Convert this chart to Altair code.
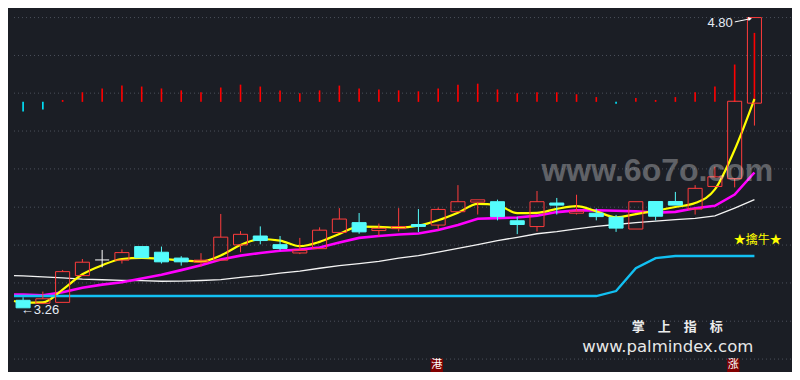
import altair as alt
import pandas as pd

BG = "#1b1e25"
RED = "#ff3c3c"
CYAN = "#54fcfc"

# ---------------- data ----------------
candle_idx = list(range(38))
opens = [3.300, 3.284, 3.289, 3.431, 3.514, 3.513, 3.585, 3.555, 3.524, 3.502,
         3.513, 3.594, 3.641, 3.595, 3.551, 3.574, 3.660, 3.712, 3.670, 3.680,
         3.702, 3.699, 3.770, 3.821, 3.823, 3.722, 3.691, 3.816, 3.762, 3.762,
         3.741, 3.678, 3.824, 3.824, 3.784, 3.904, 3.945, 4.346]
highs = [3.316, 3.346, 3.461, 3.519, 3.567, 3.570, 3.585, 3.585, 3.534, 3.550,
         3.758, 3.667, 3.692, 3.641, 3.631, 3.687, 3.789, 3.763, 3.707, 3.789,
         3.784, 3.792, 3.911, 3.833, 3.834, 3.743, 3.880, 3.843, 3.860, 3.787,
         3.753, 3.823, 3.824, 3.875, 3.911, 4.009, 4.356, 4.800]
lows = [3.260, 3.280, 3.289, 3.431, 3.475, 3.495, 3.524, 3.495, 3.484, 3.479,
        3.513, 3.555, 3.597, 3.565, 3.545, 3.574, 3.660, 3.653, 3.640, 3.665,
        3.662, 3.675, 3.770, 3.755, 3.724, 3.651, 3.665, 3.755, 3.755, 3.724,
        3.663, 3.678, 3.724, 3.805, 3.755, 3.904, 3.899, 4.227]
closes = [3.260, 3.308, 3.452, 3.502, 3.514, 3.553, 3.526, 3.504, 3.504, 3.513,
          3.635, 3.650, 3.617, 3.575, 3.565, 3.672, 3.731, 3.663, 3.682, 3.691,
          3.692, 3.782, 3.823, 3.833, 3.744, 3.702, 3.823, 3.805, 3.773, 3.744,
          3.683, 3.823, 3.746, 3.805, 3.894, 3.955, 4.356, 4.800]

# line points: first point sits on the left edge of the panel
line_x = [-0.46] + candle_idx
ma_short = [3.296, 3.288, 3.289, 3.357, 3.438, 3.486, 3.519, 3.525, 3.520, 3.511,
            3.506, 3.538, 3.593, 3.625, 3.617, 3.587, 3.610, 3.652, 3.691, 3.690,
            3.685, 3.696, 3.725, 3.765, 3.812, 3.805, 3.762, 3.764, 3.785, 3.800,
            3.772, 3.740, 3.757, 3.775, 3.795, 3.816, 3.888, 4.099, 4.368]
ma_mid = [3.331, 3.330, 3.327, 3.343, 3.367, 3.383, 3.396, 3.416, 3.436, 3.460,
          3.486, 3.516, 3.537, 3.551, 3.563, 3.569, 3.580, 3.606, 3.631, 3.641,
          3.649, 3.654, 3.673, 3.699, 3.733, 3.736, 3.739, 3.749, 3.768, 3.777,
          3.778, 3.775, 3.772, 3.765, 3.769, 3.788, 3.801, 3.861, 3.978]
ma_long = [3.431, 3.429, 3.424, 3.419, 3.412, 3.409, 3.406, 3.404, 3.401, 3.402,
           3.405, 3.410, 3.422, 3.431, 3.444, 3.455, 3.470, 3.484, 3.495, 3.507,
           3.524, 3.537, 3.555, 3.575, 3.595, 3.617, 3.634, 3.653, 3.664, 3.679,
           3.692, 3.702, 3.712, 3.720, 3.728, 3.735, 3.748, 3.789, 3.834]
support = [3.3225] * 31 + [3.349, 3.470, 3.524, 3.535, 3.535, 3.535, 3.535, 3.535]

signal = [-10, -8, 2, 10, 14, 17, 16, 14, 12, 10, 15, 18, 16, 12, 9, 12, 17, 14, 13,
          12, 11, 14, 18, 19, 13, 9, 10, 10, 8, 5, -2, 4, 2, 5, 10, 16, 39, 72]

grid_levels = [4.800, 4.599, 4.399, 4.198, 3.997, 3.794, 3.593, 3.392, 3.189, 2.988]

low_label = "←3.26"
high_label = "4.80"
signal_label = "★擒牛★"
watermark1 = "www.6o7o.com"
watermark2_cn = "掌　上　指　标"
watermark2_en = "www.palmindex.com"
tags = ["港", "涨"]
tag_idx = [20.93, 35.93]

# ---------------- scales ----------------
X_DOMAIN = [-0.46, 38.85]
Y_DOMAIN = [2.9195, 4.8508]
xs = alt.Scale(domain=X_DOMAIN, nice=False, zero=False)
ys = alt.Scale(domain=Y_DOMAIN, nice=False, zero=False)
ind_scale = alt.Scale(domain=[-282, 98], nice=False, zero=False)


def X(f):
    return alt.X(f, type="quantitative", scale=xs, axis=None)


def Y(f):
    return alt.Y(f, type="quantitative", scale=ys, axis=None)


# ---------------- tables ----------------
cdf = pd.DataFrame({"i": candle_idx, "o": opens, "h": highs, "l": lows, "c": closes})
cdf["kind"] = ["up" if c > o else ("down" if c < o else "flat") for o, c in zip(cdf.o, cdf.c)]
cdf["top"] = cdf[["o", "c"]].max(axis=1)
cdf["bot"] = cdf[["o", "c"]].min(axis=1)
cdf["x0"] = cdf.i - 0.355
cdf["x1"] = cdf.i + 0.355
kind_col = {"up": RED, "down": CYAN, "flat": "#ffffff"}

wk = pd.concat([
    pd.DataFrame({"i": cdf.i, "a": cdf.h, "b": cdf.top, "kind": cdf.kind}),
    pd.DataFrame({"i": cdf.i, "a": cdf.bot, "b": cdf.l, "kind": cdf.kind}),
], ignore_index=True)
wk["col"] = wk.kind.map(kind_col)

ind = pd.DataFrame({"i": candle_idx, "v": signal})
ind["z"] = 0
ind["col"] = ["#ff0000" if v > 0 else "#00e8ff" for v in signal]

ldf = pd.DataFrame({"x": line_x, "s": ma_short, "m": ma_mid, "w": ma_long, "b": support})

layers = []

# grid
layers.append(
    alt.Chart(pd.DataFrame({"g": grid_levels}))
    .mark_rule(color="#4b505b", strokeDash=[1, 3], strokeWidth=1)
    .encode(y=Y("g"))
)

# indicator bars
layers.append(
    alt.Chart(ind)
    .mark_rule(strokeWidth=1.6)
    .encode(
        x=X("i"),
        y=alt.Y("z:Q", scale=ind_scale, axis=None),
        y2="v:Q",
        color=alt.Color("col:N", scale=None),
    )
)

# moving-average lines
layers.append(alt.Chart(ldf).mark_line(color="#f4f4f4", strokeWidth=1.3).encode(x=X("x"), y=Y("w")))
layers.append(alt.Chart(ldf).mark_line(color="#ff00ff", strokeWidth=2.6).encode(x=X("x"), y=Y("m")))
layers.append(alt.Chart(ldf).mark_line(color="#ffff00", strokeWidth=2.2, interpolate="monotone").encode(x=X("x"), y=Y("s")))
layers.append(alt.Chart(ldf).mark_line(color="#12c0f2", strokeWidth=2.4).encode(x=X("x"), y=Y("b")))

# wicks
layers.append(
    alt.Chart(wk)
    .mark_rule(strokeWidth=1)
    .encode(x=X("i"), y=Y("a"), y2="b:Q", color=alt.Color("col:N", scale=None))
)

# bodies
layers.append(
    alt.Chart(cdf[cdf.kind == "up"])
    .mark_rect(fillOpacity=0, stroke=RED, strokeWidth=1)
    .encode(x=X("x0"), x2="x1:Q", y=Y("bot"), y2="top:Q")
)
layers.append(
    alt.Chart(cdf[cdf.kind == "down"])
    .mark_rect(fill=CYAN, stroke=CYAN, strokeWidth=1)
    .encode(x=X("x0"), x2="x1:Q", y=Y("bot"), y2="top:Q")
)
layers.append(
    alt.Chart(cdf[cdf.kind == "flat"])
    .mark_rule(color="#ffffff", strokeWidth=1)
    .encode(x=X("x0"), x2="x1:Q", y=Y("o"))
)

# price labels
layers.append(
    alt.Chart(pd.DataFrame({"x": [-0.113], "y": [3.250], "t": [low_label]}))
    .mark_text(align="left", baseline="middle", font="Liberation Sans", fontSize=13, color="#e6ecf5")
    .encode(x=X("x"), y=Y("y"), text="t:N")
)
layers.append(
    alt.Chart(pd.DataFrame({"x": [35.906], "y": [4.772], "t": [high_label]}))
    .mark_text(align="right", baseline="middle", font="Liberation Sans", fontSize=13, color="#e6ecf5")
    .encode(x=X("x"), y=Y("y"), text="t:N")
)
layers.append(
    alt.Chart(pd.DataFrame({"x": [36.005], "x2": [36.76], "y": [4.777], "y2": [4.793]}))
    .mark_rule(color="#ffffff", strokeWidth=1)
    .encode(x=X("x"), x2="x2:Q", y=Y("y"), y2="y2:Q")
)
layers.append(
    alt.Chart(pd.DataFrame({"x": [36.78], "y": [4.794]}))
    .mark_point(shape="triangle-right", size=18, filled=True, color="#ffffff", opacity=1, angle=350)
    .encode(x=X("x"), y=Y("y"))
)

# signal text
layers.append(
    alt.Chart(pd.DataFrame({"x": [35.955], "y": [3.621], "t": [signal_label]}))
    .mark_text(align="left", baseline="middle", font="Noto Sans CJK SC", fontSize=12, color="#ffff00")
    .encode(x=X("x"), y=Y("y"), text="t:N")
)

# bottom tags
tdf = pd.DataFrame({"x": tag_idx, "t": tags})
tdf["x0"] = tdf.x - 0.31
tdf["x1"] = tdf.x + 0.31
tdf["y0"] = Y_DOMAIN[0]
tdf["y1"] = 2.9906
tdf["ym"] = 2.955
layers.append(
    alt.Chart(tdf).mark_rect(color="#800000").encode(x=X("x0"), x2="x1:Q", y=Y("y0"), y2="y1:Q")
)
layers.append(
    alt.Chart(tdf)
    .mark_text(align="center", baseline="middle", font="Noto Sans CJK SC", fontSize=11, color="#ffffff")
    .encode(x=X("x"), y=Y("ym"), text="t:N")
)

# watermarks
layers.append(
    alt.Chart(pd.DataFrame({"x": [30.796], "y": [3.1609], "t": [watermark2_cn]}))
    .mark_text(align="left", baseline="middle", font="Noto Sans CJK SC", fontSize=13, fontWeight="bold", color="#ececec")
    .encode(x=X("x"), y=Y("y"), text="t:N")
)
layers.append(
    alt.Chart(pd.DataFrame({"x": [28.29], "y": [3.0262], "t": [watermark2_en]}))
    .mark_text(align="left", baseline="alphabetic", font="DejaVu Sans", fontSize=16.5, color="#e8e8e8")
    .encode(x=X("x"), y=Y("y"), text="t:N")
)
layers.append(
    alt.Chart(pd.DataFrame({"x": [26.226], "y": [3.933], "t": [watermark1]}))
    .mark_text(align="left", baseline="alphabetic", font="Liberation Sans", fontSize=32, fontWeight="bold",
               color="#ffffff", opacity=0.3)
    .encode(x=X("x"), y=Y("y"), text="t:N")
)

chart = (
    alt.layer(*layers)
    .resolve_scale(y="independent")
    .properties(
        width=784,
        height=364,
        padding=0,
        background=BG,
        autosize=alt.AutoSizeParams(type="fit", contains="padding"),
    )
    .configure_view(strokeWidth=0)
)

chart.save("out.html", embed_options={"renderer": "svg", "actions": False})
